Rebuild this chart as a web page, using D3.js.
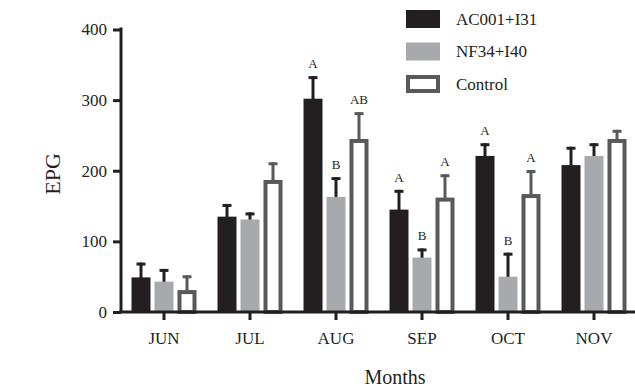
<!DOCTYPE html>
<html>
<head>
<meta charset="utf-8">
<script src="https://cdn.jsdelivr.net/npm/d3@7"></script>
<style>
  body { margin: 0; background: #fff; }
</style>
</head>
<body>
<div id="chart"></div>
<script>
const months = ["JUN", "JUL", "AUG", "SEP", "OCT", "NOV"];
const series = ["AC001+I31", "NF34+I40", "Control"];

// mean values per series (one per month)
const ac001 = [49, 135, 302, 145, 221, 208];
const nf34 = [43, 131, 163, 77, 50, 221];
const control = [31, 187, 245, 162, 167, 245];

// top of error bar per series
const ac001Err = [70, 153, 334, 173, 239, 234];
const nf34Err = [61, 141, 191, 90, 84, 239];
const controlErr = [52, 212, 283, 195, 201, 258];

// significance letters
const ac001Sig = ["", "", "A", "A", "A", ""];
const nf34Sig = ["", "", "B", "B", "B", ""];
const controlSig = ["", "", "AB", "A", "A", ""];

const yTicks = [0, 100, 200, 300, 400];

const dimensions = {
    width: 635,
    height: 388,
    plotLeft: 121,
    plotRight: 637,
    plotTop: 29.5,
    plotBottom: 312,
    barWidth: 19
};

const FONT = "Liberation Serif, Times New Roman, serif";
const INK = "#231f20";

const colors = {
    "AC001+I31": "#231f20",
    "NF34+I40": "#a7a9ac",
    "Control": "#58595b"
};
const errColors = {
    "AC001+I31": "#231f20",
    "NF34+I40": "#231f20",
    "Control": "#58595b"
};

const data = [];
months.forEach((m, i) => {
    data.push({ month: m, key: series[0], value: ac001[i], err: ac001Err[i], sig: ac001Sig[i] });
    data.push({ month: m, key: series[1], value: nf34[i], err: nf34Err[i], sig: nf34Sig[i] });
    data.push({ month: m, key: series[2], value: control[i], err: controlErr[i], sig: controlSig[i] });
});

const svg = d3.select("#chart").append("svg")
    .attr("width", dimensions.width)
    .attr("height", dimensions.height)
    .style("font-family", FONT);

const xScale = d3.scaleBand()
    .domain(months)
    .range([dimensions.plotLeft, dimensions.plotRight])
    .padding(0);

const subScale = d3.scalePoint()
    .domain(series)
    .range([-23, 23]);

const yScale = d3.scaleLinear()
    .domain([0, 400])
    .range([dimensions.plotBottom, dimensions.plotTop]);

const cx = d => xScale(d.month) + xScale.bandwidth() / 2 + subScale(d.key);

// error bars (drawn first so bars cover the base)
const errG = svg.append("g");
errG.selectAll("line.err")
    .data(data)
    .enter().append("line")
    .attr("x1", cx).attr("x2", cx)
    .attr("y1", d => yScale(d.value) + 2)
    .attr("y2", d => yScale(d.err))
    .attr("stroke", d => errColors[d.key])
    .attr("stroke-width", 3);
errG.selectAll("line.cap")
    .data(data)
    .enter().append("line")
    .attr("x1", d => cx(d) - 4.5).attr("x2", d => cx(d) + 4.5)
    .attr("y1", d => yScale(d.err) + 1.5)
    .attr("y2", d => yScale(d.err) + 1.5)
    .attr("stroke", d => errColors[d.key])
    .attr("stroke-width", 3);

// bars
const bw = dimensions.barWidth;
svg.append("g").selectAll("rect")
    .data(data)
    .enter().append("rect")
    .attr("x", d => d.key === "Control" ? cx(d) - bw / 2 + 2 : cx(d) - bw / 2)
    .attr("y", d => d.key === "Control" ? yScale(d.value) + 2 : yScale(d.value))
    .attr("width", d => d.key === "Control" ? bw - 4 : bw)
    .attr("height", d => d.key === "Control" ? yScale(0) - yScale(d.value) - 2 : yScale(0) - yScale(d.value))
    .attr("fill", d => d.key === "Control" ? "#fff" : colors[d.key])
    .attr("stroke", d => d.key === "Control" ? colors[d.key] : "none")
    .attr("stroke-width", 4);

// significance letters
svg.append("g").selectAll("text")
    .data(data.filter(d => d.sig))
    .enter().append("text")
    .attr("x", cx)
    .attr("y", d => yScale(d.err) - 8)
    .attr("text-anchor", "middle")
    .attr("fill", INK)
    .style("font-family", FONT)
    .style("font-size", "13px")
    .text(d => d.sig);

// axes
const yAxis = svg.append("g")
    .attr("transform", `translate(${dimensions.plotLeft},0)`)
    .call(d3.axisLeft(yScale).tickValues(yTicks).tickSize(8).tickSizeOuter(0).tickPadding(6));

const xAxis = svg.append("g")
    .attr("transform", `translate(0,${dimensions.plotBottom})`)
    .call(d3.axisBottom(xScale).tickSize(8).tickSizeOuter(0).tickPadding(12));

[yAxis, xAxis].forEach(g => {
    g.attr("font-family", null).attr("font-size", null);
    g.select(".domain").attr("stroke", INK).attr("stroke-width", 3);
    g.selectAll(".tick line").attr("stroke", INK).attr("stroke-width", 3);
    g.selectAll(".tick text")
        .attr("fill", INK)
        .style("font-family", FONT)
        .style("font-size", "17px");
});
yAxis.select(".domain").attr("d", `M0,${dimensions.plotBottom}V${dimensions.plotTop - 2}`);
xAxis.select(".domain").attr("d", `M${dimensions.plotLeft - 1.5},0H${dimensions.plotRight}`);

// axis titles
svg.append("text")
    .attr("transform", "translate(60,174) rotate(-90)")
    .attr("text-anchor", "middle")
    .attr("fill", INK)
    .style("font-family", FONT)
    .style("font-size", "22px")
    .text("EPG");

svg.append("text")
    .attr("x", 395)
    .attr("y", 384)
    .attr("text-anchor", "middle")
    .attr("fill", INK)
    .style("font-family", FONT)
    .style("font-size", "20px")
    .text("Months");

// legend
const legend = svg.append("g").attr("transform", "translate(406,10)");
series.forEach((s, i) => {
    const g = legend.append("g").attr("transform", `translate(0,${i * 32.5})`);
    if (s === "Control") {
        g.append("rect").attr("x", 2).attr("y", 2).attr("width", 30).attr("height", 14)
            .attr("fill", "#fff").attr("stroke", colors[s]).attr("stroke-width", 4);
    } else {
        g.append("rect").attr("width", 34).attr("height", 18).attr("fill", colors[s]);
    }
    g.append("text")
        .attr("x", 50)
        .attr("y", 9)
        .attr("dy", "0.35em")
        .attr("fill", INK)
        .style("font-family", FONT)
        .style("font-size", "17px")
        .text(s);
});
</script>
</body>
</html>
